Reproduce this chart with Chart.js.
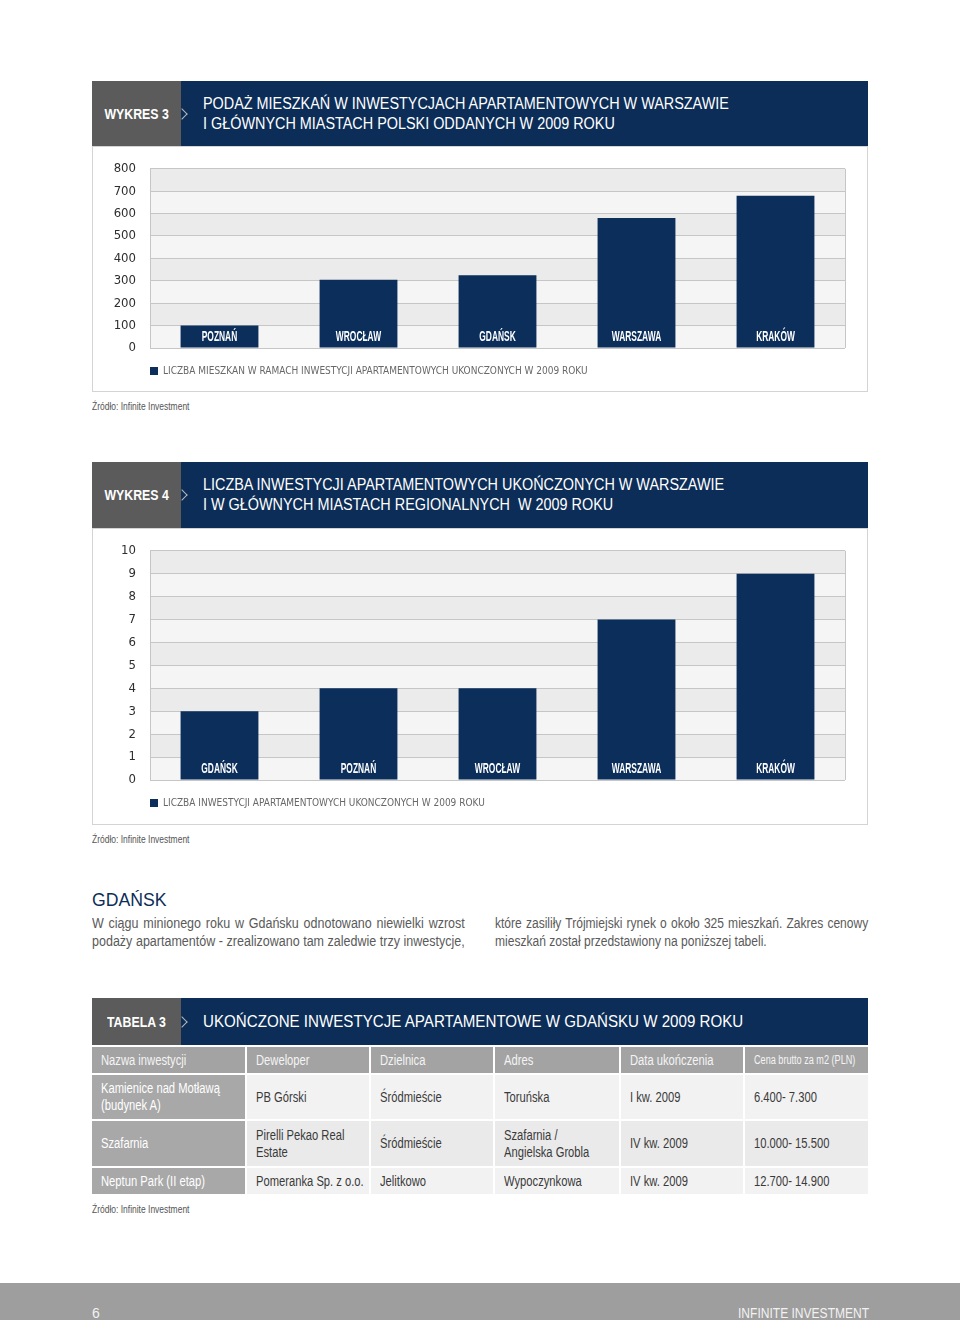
<!DOCTYPE html>
<html>
<head>
<meta charset="utf-8">
<title>Podaż mieszkań – Wykres 3 i 4</title>
<script src="https://cdn.jsdelivr.net/npm/chart.js"></script>
<style>
  body { margin:0; width:960px; height:1320px; position:relative; overflow:hidden; background:#fff;
         font-family:'Liberation Sans', Arial, sans-serif; }
  .sq { display:inline-block; transform-origin:0 50%; white-space:pre; }
  .hdr { position:absolute; left:92px; width:776px; background:#0c2d57; color:#fff; }
  .hdr .tag { position:absolute; left:0; top:0; bottom:0; width:89px; background:#5b5b5b;
              font-weight:bold; font-size:14px; display:flex; align-items:center; justify-content:center; }
  .hdr .tag span { display:inline-block; transform:scaleX(0.88); }
  .hdr .chev { position:absolute; left:86px; top:50%; width:7px; height:7px; margin-top:-4px;
               border-top:1px solid #b8b8b8; border-right:1px solid #b8b8b8; transform:rotate(45deg); }
  .hdr .ttl { position:absolute; left:111px; top:50%; transform:translateY(-50%) scaleX(0.9); transform-origin:0 50%;
              font-size:16px; line-height:20px; white-space:nowrap; }
  .box { position:absolute; left:92px; width:774px; border:1px solid #d4d4d4; background:#fff; }
  .box .cw { position:relative; width:774px; height:100%; }
  .src { position:absolute; left:92px; font-size:11px; color:#555; line-height:12px; transform:scaleX(0.77); transform-origin:0 0; white-space:nowrap; }
  .h2 { position:absolute; left:92px; top:889px; font-size:19px; line-height:22px; color:#0c2d57; transform:scaleX(0.93); transform-origin:0 0; }
  .col { position:absolute; top:914px; font-size:14px; line-height:18px; color:#5a5a5a; transform-origin:0 0; }
  .col .j { display:block; text-align:justify; text-align-last:justify; white-space:nowrap; }
  .col .l { display:block; white-space:nowrap; }
  table { position:absolute; left:90px; top:1045px; width:780px; border-collapse:separate; border-spacing:2px;
          table-layout:fixed; font-size:14px; line-height:17px; }
  td { padding:0 0 0 9px; vertical-align:middle; color:#3a3a3a; overflow:hidden; }
  td .sq { transform:scaleX(0.8); }
  tr.th td { background:#a3a3a3; color:#f4f4f4; height:26px; }
  tr.th td.small { font-size:12px; }
  tr.th td.small .sq { transform:scaleX(0.76); }
  td.first { background:#a8a8a8 !important; color:#fff; }
  tr.r1 td, tr.r3 td { background:#f2f2f2; }
  tr.r2 td { background:#eaeaea; }
  .foot { position:absolute; left:0; top:1283px; width:960px; height:37px; background:#9e9e9e; color:#f2f2f2; font-size:14px; }
</style>
</head>
<body>

<div class="hdr" style="top:81px;height:65px">
  <div class="tag"><span>WYKRES 3</span></div><div class="chev"></div>
  <div class="ttl">PODAŻ MIESZKAŃ W INWESTYCJACH APARTAMENTOWYCH W WARSZAWIE<br>I GŁÓWNYCH MIASTACH POLSKI ODDANYCH W 2009 ROKU</div>
</div>
<div class="box" style="top:146px;height:244px"><div class="cw"><canvas id="chart3"></canvas></div></div>
<div class="src" style="top:400px">Źródło: Infinite Investment</div>

<div class="hdr" style="top:462px;height:66px">
  <div class="tag"><span>WYKRES 4</span></div><div class="chev"></div>
  <div class="ttl">LICZBA INWESTYCJI APARTAMENTOWYCH UKOŃCZONYCH W WARSZAWIE<br>I W GŁÓWNYCH MIASTACH REGIONALNYCH&nbsp; W 2009 ROKU</div>
</div>
<div class="box" style="top:528px;height:295px"><div class="cw"><canvas id="chart4"></canvas></div></div>
<div class="src" style="top:833px">Źródło: Infinite Investment</div>

<div class="h2">GDAŃSK</div>
<div class="col" style="left:92px;width:417px;transform:scaleX(0.894)">
  <span class="j">W ciągu minionego roku w Gdańsku odnotowano niewielki wzrost</span>
  <span class="j">podaży apartamentów - zrealizowano tam zaledwie trzy inwestycje,</span>
</div>
<div class="col" style="left:495px;width:434px;transform:scaleX(0.86)">
  <span class="j">które zasiliły Trójmiejski rynek o około 325 mieszkań. Zakres cenowy</span>
  <span class="l">mieszkań został przedstawiony na poniższej tabeli.</span>
</div>

<div class="hdr" style="top:998px;height:47px">
  <div class="tag"><span>TABELA 3</span></div><div class="chev"></div>
  <div class="ttl" style="font-size:17px;transform:translateY(-50%) scaleX(0.89)">UKOŃCZONE INWESTYCJE APARTAMENTOWE W GDAŃSKU W 2009 ROKU</div>
</div>
<table id="tab">
  <colgroup><col style="width:153px"><col style="width:122px"><col style="width:122px"><col style="width:124px"><col style="width:122px"><col style="width:123px"></colgroup>
  <tbody></tbody>
</table>
<div class="src" style="top:1203px">Źródło: Infinite Investment</div>

<div class="foot">
  <span style="position:absolute;left:92px;top:22px">6</span>
  <span style="position:absolute;left:738px;top:22px;transform:scaleX(0.86);transform-origin:0 0;white-space:nowrap">INFINITE INVESTMENT</span>
</div>

<script>
// Wykres 3 – liczba mieszkań
const cities3 = ['POZNAŃ', 'WROCŁAW', 'GDAŃSK', 'WARSZAWA', 'KRAKÓW'];
const flats3 = [100, 305, 325, 580, 680];
const legend3 = 'LICZBA MIESZKAŃ W RAMACH INWESTYCJI APARTAMENTOWYCH UKOŃCZONYCH W 2009 ROKU';

// Wykres 4 – liczba inwestycji
const cities4 = ['GDAŃSK', 'POZNAŃ', 'WROCŁAW', 'WARSZAWA', 'KRAKÓW'];
const invest4 = [3, 4, 4, 7, 9];
const legend4 = 'LICZBA INWESTYCJI APARTAMENTOWYCH UKOŃCZONYCH W 2009 ROKU';

// Tabela 3
const tableHead = ['Nazwa inwestycji', 'Deweloper', 'Dzielnica', 'Adres', 'Data ukończenia', 'Cena brutto za m2 (PLN)'];
const tableRows = [
  ['Kamienice nad Motławą\n(budynek A)', 'PB Górski', 'Śródmieście', 'Toruńska', 'I kw. 2009', '6.400- 7.300'],
  ['Szafarnia', 'Pirelli Pekao Real\nEstate', 'Śródmieście', 'Szafarnia /\nAngielska Grobla', 'IV kw. 2009', '10.000- 15.500'],
  ['Neptun Park (II etap)', 'Pomeranka Sp. z o.o.', 'Jelitkowo', 'Wypoczynkowa', 'IV kw. 2009', '12.700- 14.900']
];

const NAVY = '#0b2e5a';
const FONT = "'DejaVu Sans Condensed', 'Liberation Sans', sans-serif";

// table
const tb = document.querySelector('#tab tbody');
let html = '<tr class="th">' + tableHead.map((h, i) =>
  `<td${i === 5 ? ' class="small"' : ''}><span class="sq">${h}</span></td>`).join('') + '</tr>';
const heights = [44, 45, 26];
tableRows.forEach((r, ri) => {
  html += `<tr class="r${ri + 1}">` + r.map((c, i) =>
    `<td${i === 0 ? ' class="first"' : ''} style="height:${heights[ri]}px"><span class="sq">${c}</span></td>`).join('') + '</tr>';
});
tb.innerHTML = html;

// alternating grey bands between the gridlines + right edge of the plot
const bands = {
  id: 'bands',
  beforeDraw(chart) {
    const { ctx, chartArea: a, scales: { y } } = chart;
    const t = y.ticks;
    ctx.save();
    for (let i = 0; i < t.length - 1; i++) {
      const y0 = y.getPixelForValue(t[i].value), y1 = y.getPixelForValue(t[i + 1].value);
      ctx.fillStyle = (t.length - 2 - i) % 2 === 0 ? '#ebebeb' : '#f5f5f5';
      ctx.fillRect(a.left, y1, a.right - a.left, y0 - y1);
    }
    ctx.restore();
  },
  beforeDatasetsDraw(chart) {
    const { ctx, chartArea: a } = chart;
    ctx.save();
    ctx.strokeStyle = '#c6c6c6';
    ctx.lineWidth = 1;
    ctx.beginPath();
    ctx.moveTo(Math.round(a.right) + 0.5, a.top);
    ctx.lineTo(Math.round(a.right) + 0.5, a.bottom);
    ctx.stroke();
    ctx.restore();
  }
};

// city names inside the bars (condensed bold)
const barLabels = {
  id: 'barLabels',
  afterDatasetsDraw(chart) {
    const { ctx } = chart;
    const meta = chart.getDatasetMeta(0);
    ctx.save();
    ctx.font = "bold 14px 'Liberation Sans', sans-serif";
    ctx.fillStyle = '#fff';
    ctx.textAlign = 'center';
    ctx.textBaseline = 'middle';
    meta.data.forEach((bar, i) => {
      ctx.save();
      ctx.translate(bar.x, bar.base - 10);
      ctx.scale(0.6, 1);
      ctx.fillText(chart.data.labels[i], 0, 0);
      ctx.restore();
    });
    ctx.restore();
  }
};

function barChart(id, labels, values, legendText, max, step, padBottom) {
  return new Chart(document.getElementById(id), {
    type: 'bar',
    data: {
      labels: labels,
      datasets: [{ label: legendText, data: values, backgroundColor: NAVY, barPercentage: 0.56, categoryPercentage: 1 }]
    },
    options: {
      animation: false,
      responsive: true,
      maintainAspectRatio: false,
      layout: { padding: { top: 18, right: 22, left: 0, bottom: padBottom } },
      plugins: {
        legend: {
          position: 'bottom', align: 'start', fullSize: false,
          labels: { boxWidth: 8, boxHeight: 8, padding: 0, color: '#686868', font: { family: FONT, size: 10 } }
        },
        tooltip: { enabled: false }
      },
      scales: {
        x: {
          grid: { display: false }, border: { display: false }, ticks: { display: false },
          afterFit: s => { s.height = 18; }
        },
        y: {
          min: 0, max: max,
          ticks: { stepSize: step, padding: 14, color: '#2e2e2e', font: { family: FONT, size: 13 } },
          grid: { color: '#c6c6c6', drawTicks: false },
          border: { color: '#c6c6c6' },
          afterFit: s => { s.width = 57; }
        }
      }
    },
    plugins: [bands, barLabels]
  });
}

barChart('chart3', cities3, flats3, legend3, 800, 100, 5);
barChart('chart4', cities4, invest4, legend4, 10, 1, 6);
</script>
</body>
</html>
